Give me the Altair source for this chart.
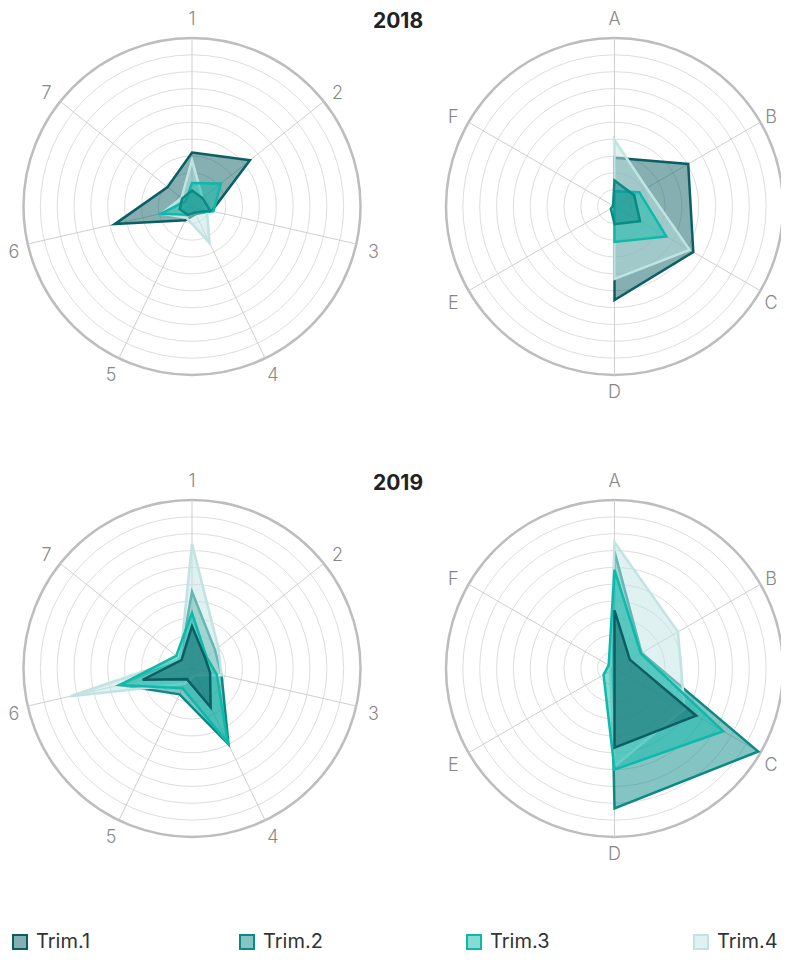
import math
import altair as alt
import pandas as pd

# ---------------- data ----------------
TRIMS = ["Trim.1", "Trim.2", "Trim.3", "Trim.4"]
YEARS = ["2018", "2019"]
AXES_NUM = ["1", "2", "3", "4", "5", "6", "7"]
AXES_LET = ["A", "B", "C", "D", "E", "F"]

# 2018, numbered axes 1..7
Y2018_NUM_T1 = [3.2, 4.4, 1.2, 0.5, 0.9, 4.7, 1.85]
Y2018_NUM_T2 = [0.95, 0.8, 1.1, 0.4, 0.55, 0.75, 0.75]
Y2018_NUM_T3 = [1.4, 2.2, 1.3, 0.4, 0.55, 1.9, 0.5]
Y2018_NUM_T4 = [2.75, 0.8, 0.9, 2.4, 0.75, 1.85, 0.8]

# 2018, lettered axes A..F
Y2018_LET_T1 = [2.9, 5.05, 5.4, 5.55, 0.0, 0.0]
Y2018_LET_T2 = [1.55, 1.35, 1.75, 1.05, 0.25, 0.1]
Y2018_LET_T3 = [0.9, 1.7, 3.55, 2.1, 0.0, 0.0]
Y2018_LET_T4 = [3.95, 2.2, 5.15, 4.3, 0.0, 0.0]

# 2019, numbered axes 1..7
Y2019_NUM_T1 = [2.5, 1.0, 1.1, 2.55, 0.7, 3.0, 0.8]
Y2019_NUM_T2 = [4.55, 1.75, 1.8, 5.0, 1.7, 4.4, 0.9]
Y2019_NUM_T3 = [3.3, 1.1, 1.5, 4.9, 1.3, 4.4, 1.2]
Y2019_NUM_T4 = [7.4, 2.0, 1.8, 0.45, 1.0, 7.4, 0.9]

# 2019, lettered axes A..F
Y2019_LET_T1 = [3.45, 1.05, 5.6, 4.7, 0.0, 0.0]
Y2019_LET_T2 = [6.95, 1.85, 9.85, 8.3, 0.2, 0.1]
Y2019_LET_T3 = [5.85, 1.8, 7.45, 6.0, 0.75, 0.4]
Y2019_LET_T4 = [7.5, 4.35, 4.8, 5.8, 0.3, 0.3]

MAX_VALUE = 10
RINGS = list(range(1, MAX_VALUE + 1))

# ---------------- style / layout ----------------
STROKES = ["#0b5f64", "#0a8a85", "#0db9ab", "#bfe4e1"]
FILLS = ["rgba(11,95,100,0.5)", "rgba(10,138,133,0.5)",
         "rgba(13,185,171,0.5)", "rgba(191,228,225,0.5)"]
FONT = "Inter"
RADIUS_PX = 168.5
PX_PER_UNIT = RADIUS_PX / MAX_VALUE
LABEL_R = 11.05  # in value units
LABEL_DY = 5.0   # px, pushes side labels a little downward
LABEL_XMIN, LABEL_XMAX = 14, 771

PANELS = [
    ("2018", "num", AXES_NUM, [Y2018_NUM_T1, Y2018_NUM_T2, Y2018_NUM_T3, Y2018_NUM_T4], 192.0, 206.5),
    ("2018", "let", AXES_LET, [Y2018_LET_T1, Y2018_LET_T2, Y2018_LET_T3, Y2018_LET_T4], 614.5, 206.5),
    ("2019", "num", AXES_NUM, [Y2019_NUM_T1, Y2019_NUM_T2, Y2019_NUM_T3, Y2019_NUM_T4], 192.0, 668.5),
    ("2019", "let", AXES_LET, [Y2019_LET_T1, Y2019_LET_T2, Y2019_LET_T3, Y2019_LET_T4], 614.5, 668.5),
]
TITLE_X = 398
TITLE_DY = -184.5


def polygon_area(vals):
    n = len(vals)
    return 0.5 * math.sin(2 * math.pi / n) * sum(vals[i] * vals[(i + 1) % n] for i in range(n))


poly_rows, ring_rows, spoke_rows, title_rows = [], [], [], []
for year, aset, axes, series, cx, cy in PANELS:
    pid = f"{year}-{aset}"
    n = len(axes)
    # larger polygons are drawn first (underneath), smaller ones on top
    ordered = sorted(zip(TRIMS, series), key=lambda ts: -polygon_area(ts[1]))
    for t, vals in ordered:
        for k, v in enumerate(vals):
            poly_rows.append(dict(panel=pid, trim=t, k=k, n=n, v=v, cx=cx, cy=cy))
    for r in RINGS:
        ring_rows.append(dict(panel=pid, ring=r, cx=cx, cy=cy))
    for k, lab in enumerate(axes):
        spoke_rows.append(dict(panel=pid, k=k, n=n, cx=cx, cy=cy, label=lab))
    if aset == "num":
        title_rows.append(dict(year=year, tx=TITLE_X, ty=cy + TITLE_DY))

poly_df = pd.DataFrame(poly_rows)
ring_df = pd.DataFrame(ring_rows)
spoke_df = pd.DataFrame(spoke_rows)
title_df = pd.DataFrame(title_rows)

W, H = 773, 947
xs = alt.Scale(domain=[8, 8 + W], nice=False, zero=False)
ys = alt.Scale(domain=[8, 8 + H], nice=False, zero=False, reverse=True)

U = PX_PER_UNIT
ang = "2*PI*datum.k/datum.n"

rings_inner = alt.Chart(ring_df).transform_filter(
    f"datum.ring < {MAX_VALUE}"
).transform_calculate(
    sz=f"pow(2*datum.ring*{U}, 2)"
).mark_point(shape="circle", filled=False, stroke="#dedede", strokeWidth=1, opacity=1).encode(
    x=alt.X("cx:Q", scale=xs, axis=None),
    y=alt.Y("cy:Q", scale=ys, axis=None),
    size=alt.Size("sz:Q", scale=None, legend=None),
)

rings_outer = alt.Chart(ring_df).transform_filter(
    f"datum.ring == {MAX_VALUE}"
).transform_calculate(
    sz=f"pow(2*datum.ring*{U}, 2)"
).mark_point(shape="circle", filled=False, stroke="#bdbdbd", strokeWidth=2.5, opacity=1).encode(
    x=alt.X("cx:Q", scale=xs, axis=None),
    y=alt.Y("cy:Q", scale=ys, axis=None),
    size=alt.Size("sz:Q", scale=None, legend=None),
)

spokes = alt.Chart(spoke_df).transform_calculate(
    ex=f"datum.cx + {MAX_VALUE}*{U}*sin({ang})",
    ey=f"datum.cy - {MAX_VALUE}*{U}*cos({ang})",
).mark_rule(stroke="#cfcfcf", strokeWidth=1).encode(
    x=alt.X("cx:Q", scale=xs, axis=None),
    y=alt.Y("cy:Q", scale=ys, axis=None),
    x2="ex:Q",
    y2="ey:Q",
)

polys = alt.Chart(poly_df).transform_calculate(
    px=f"datum.cx + datum.v*{U}*sin({ang})",
    py=f"datum.cy - datum.v*{U}*cos({ang})",
).mark_line(interpolate="linear-closed", strokeWidth=2.5, strokeJoin="miter").encode(
    x=alt.X("px:Q", scale=xs, axis=None),
    y=alt.Y("py:Q", scale=ys, axis=None),
    stroke=alt.Stroke("trim:N", scale=alt.Scale(domain=TRIMS, range=STROKES),
                      legend=alt.Legend(title=None)),
    fill=alt.Fill("trim:N", scale=alt.Scale(domain=TRIMS, range=FILLS),
                  legend=alt.Legend(title=None)),
    detail="panel:N",
    order="k:Q",
)

labels = alt.Chart(spoke_df).transform_calculate(
    lx=f"clamp(datum.cx + {LABEL_R}*{U}*sin({ang}), {LABEL_XMIN}, {LABEL_XMAX})",
    ly=f"datum.cy - {LABEL_R}*{U}*cos({ang}) + {LABEL_DY}*abs(sin({ang}))",
).mark_text(font=FONT, fontSize=18, fontWeight=300, color="#888888",
            align="center", baseline="middle").encode(
    x=alt.X("lx:Q", scale=xs, axis=None),
    y=alt.Y("ly:Q", scale=ys, axis=None),
    text="label:N",
)

titles = alt.Chart(title_df).mark_text(font=FONT, fontSize=21, fontWeight="bold", color="#222222",
                                       align="center", baseline="middle").encode(
    x=alt.X("tx:Q", scale=xs, axis=None),
    y=alt.Y("ty:Q", scale=ys, axis=None),
    text="year:N",
)

chart = alt.layer(rings_inner, rings_outer, spokes, polys, labels, titles).properties(
    width=W, height=H, padding=0,
    autosize=alt.AutoSizeParams(type="none"),
).configure_view(stroke=None).configure_legend(
    orient="none", legendX=2, legendY=924, direction="horizontal", columns=4,
    columnPadding=139, gridAlign="all", symbolType="square", symbolSize=196,
    symbolStrokeWidth=2, labelFont=FONT, labelFontSize=20, labelColor="#333333",
    labelOffset=6, padding=0, labelLimit=200,
)

chart.save("out.html", embed_options={"renderer": "svg", "actions": False})
